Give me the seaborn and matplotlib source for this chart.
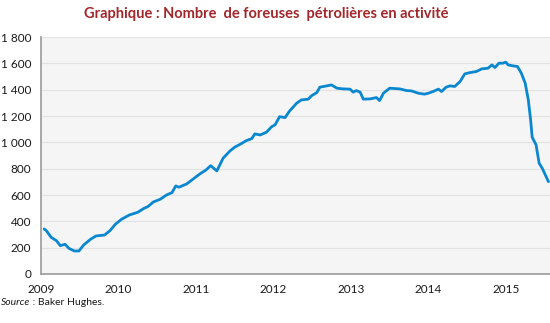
import matplotlib
matplotlib.use("Agg")
import matplotlib.pyplot as plt
import seaborn as sns
import pandas as pd

# Weekly oil rig count (Baker Hughes), positions in decimal years
years = [2009.04, 2009.07, 2009.13, 2009.20, 2009.25, 2009.31, 2009.36, 2009.43,
         2009.49, 2009.55, 2009.64, 2009.71, 2009.82, 2009.89, 2009.96, 2010.04,
         2010.14, 2010.25, 2010.33, 2010.38, 2010.45, 2010.54, 2010.62, 2010.69,
         2010.74, 2010.78, 2010.88, 2010.97, 2011.05, 2011.13, 2011.19, 2011.27,
         2011.35, 2011.44, 2011.50, 2011.57, 2011.65, 2011.72, 2011.76, 2011.83,
         2011.91, 2011.98, 2012.02, 2012.08, 2012.15, 2012.21, 2012.30, 2012.36,
         2012.45, 2012.49, 2012.56, 2012.60, 2012.69, 2012.75, 2012.82, 2012.90,
         2012.99, 2013.03, 2013.07, 2013.12, 2013.16, 2013.25, 2013.33, 2013.37,
         2013.42, 2013.50, 2013.63, 2013.72, 2013.78, 2013.87, 2013.95, 2014.00,
         2014.06, 2014.13, 2014.17, 2014.23, 2014.28, 2014.34, 2014.41, 2014.47,
         2014.54, 2014.62, 2014.69, 2014.77, 2014.82, 2014.86, 2014.91, 2014.96,
         2015.00, 2015.03, 2015.09, 2015.15, 2015.20, 2015.25, 2015.29, 2015.32,
         2015.34, 2015.39, 2015.43, 2015.47, 2015.50, 2015.55]
rigs = [342, 329, 279, 253, 215, 226, 195, 175,
        175, 220, 264, 289, 296, 329, 378, 416,
        448, 469, 499, 512, 547, 568, 600, 618,
        669, 659, 684, 724, 760, 790, 823, 783,
        879, 935, 963, 985, 1013, 1028, 1064, 1056,
        1077, 1120, 1132, 1195, 1188, 1239, 1297, 1322,
        1328, 1353, 1378, 1419, 1429, 1436, 1411, 1406,
        1404, 1381, 1393, 1381, 1328, 1330, 1340, 1317,
        1373, 1411, 1406, 1393, 1391, 1373, 1366, 1373,
        1386, 1404, 1386, 1419, 1429, 1424, 1462, 1520,
        1530, 1538, 1558, 1563, 1588, 1568, 1601, 1601,
        1609, 1588, 1581, 1576, 1525, 1449, 1322, 1170,
        1039, 981, 841, 803, 765, 701]

year_ticks = [2009, 2010, 2011, 2012, 2013, 2014, 2015]
y_ticks = [0, 200, 400, 600, 800, 1000, 1200, 1400, 1600, 1800]
y_labels = ["0", "200", "400", "600", "800", "1 000", "1 200", "1 400", "1 600", "1 800"]

title = "Graphique : Nombre  de foreuses  pétrolières en activité"

df = pd.DataFrame({"annee": years, "foreuses": rigs})

sns.set_theme(style="white")
plt.rcParams["font.family"] = ["Lato", "DejaVu Sans"]

fig = plt.figure(figsize=(5.5, 3.23), dpi=100)
ax = fig.add_axes([41 / 550, 49 / 323, 509 / 550, 237 / 323])
ax.set_facecolor("#f5f5f5")

sns.lineplot(data=df, x="annee", y="foreuses", ax=ax, color="#0a87cf",
             linewidth=2.0, zorder=3)

ax.set_xlim(2009, 2015.57)
ax.set_ylim(0, 1800)
ax.set_yticks(y_ticks)
ax.set_yticklabels(y_labels)
ax.set_xticks(year_ticks)
ax.set_xticklabels([str(y) for y in year_ticks])
ax.set_xlabel("")
ax.set_ylabel("")

for v in y_ticks[1:]:
    ax.axhline(v, color="#e2e2e2", linewidth=0.8, zorder=1)

for side in ("top", "right"):
    ax.spines[side].set_visible(False)
for side in ("left", "bottom"):
    ax.spines[side].set_color("#9a9a9a")
    ax.spines[side].set_linewidth(1.2)

ax.tick_params(axis="y", length=0, pad=7, labelsize=8.5, labelcolor="#1a1a1a")
ax.tick_params(axis="x", length=4, width=0.8, color="#9a9a9a", direction="out",
               pad=3, labelsize=8.5, labelcolor="#1a1a1a")

fig.text(0.485, 0.958, title, ha="center", va="center", fontsize=10.5,
         fontweight="bold", color="#a3262a")

src = fig.text(0.002, 0.062, "Source", ha="left", va="center", fontsize=7.5,
               style="italic", color="#1a1a1a")
ax.annotate(" : Baker Hughes.", xy=(1, 0), xycoords=src, ha="left", va="bottom",
            fontsize=7.5, color="#1a1a1a", annotation_clip=False)

fig.savefig("out.png", dpi=100)
